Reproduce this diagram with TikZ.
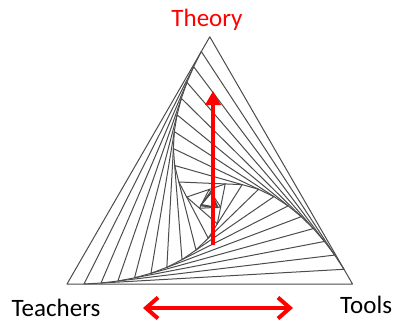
\documentclass[tikz,border=0pt]{standalone}
\usepackage{fontspec}
\setmainfont{Carlito}
\usetikzlibrary{calc,arrows.meta}
\begin{document}
\begin{tikzpicture}
[x=1pt, y=-1pt, font=\fontsize{25}{30}\selectfont]
\tikzstyle{whirl}=[draw=black!70, line width=1pt, line join=round]
\tikzstyle{uparrow}=[draw=red, line width=3.5pt, -{Triangle[width=15pt,length=14pt]}]
\tikzstyle{botharrow}=[draw=red, line width=4pt, {Straight Barb[width=21pt,length=12pt]}-{Straight Barb[width=21pt,length=12pt]}]
\useasboundingbox (0,0) rectangle (398,325);

\coordinate (A0) at (67,284);
\coordinate (B0) at (352.5,284);
\coordinate (C0) at (209.8,36.8);
\foreach \i [remember=\i as \j (initially 0)] in {1,...,14} {
  \coordinate (A\i) at ($(A\j)!17pt!(B\j)$);
  \coordinate (B\i) at ($(B\j)!17pt!(C\j)$);
  \coordinate (C\i) at ($(C\j)!17pt!(A\j)$);
}
\foreach \i in {0,...,14}
  \draw[whirl] (A\i)--(B\i)--(C\i)--cycle;

\node[text=red, anchor=base]	(theory)	at (207,26)	{Theory};
\node[anchor=base west, inner sep=0pt]	(teachers)	at (11.5,316)	{Teachers};
\node[anchor=base west, inner sep=0pt]	(tools)	at (340,313)	{Tools};

\coordinate (up0) at (213,245);
\coordinate (up1) at (213,91);
\coordinate (lr0) at (143,308);
\coordinate (lr1) at (293,308);
\draw[uparrow] (up0)--(up1);
\draw[botharrow] (lr0)--(lr1);
\end{tikzpicture}
\end{document}
